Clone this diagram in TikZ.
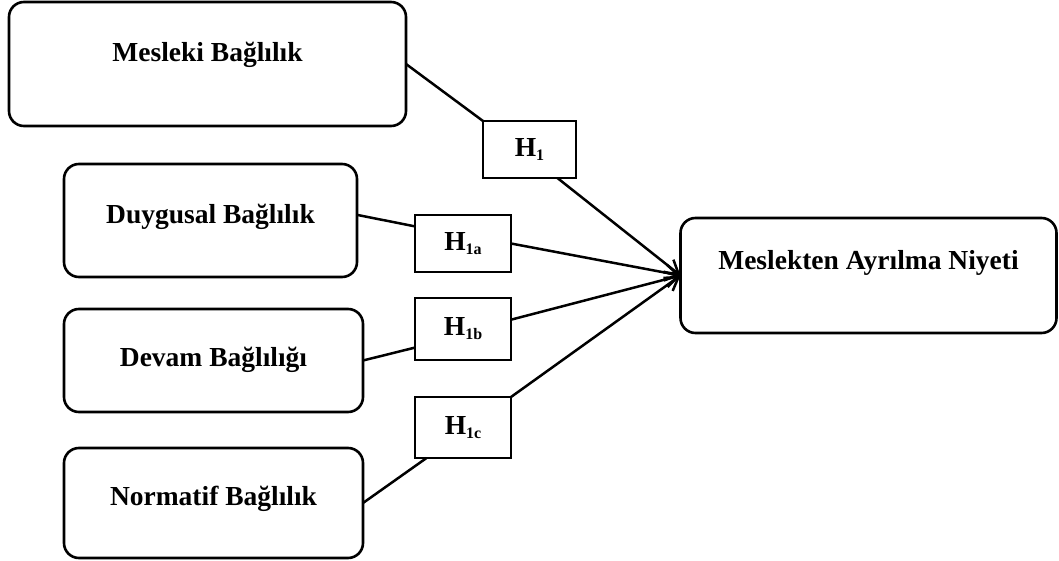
\documentclass[tikz,border=0pt]{standalone}
\usepackage{fontspec}
\setmainfont{Liberation Serif}
\usetikzlibrary{calc,arrows.meta}

% hypothesis label: bold H with a lowered, smaller index
\newcommand{\Hlab}[1]{H\raisebox{-4pt}{\fontsize{16}{16}\selectfont #1}}

\begin{document}
\begin{tikzpicture}[x=1pt,y=-1pt,
  every node/.style={inner sep=0pt, outer sep=0pt},
  line/.style={line width=2.5pt},
  varbox/.style={draw, line width=2.6pt, rounded corners=15pt},
  hypbox/.style={draw, line width=2.5pt, font=\fontsize{27.5}{30}\selectfont\bfseries},
  lbl/.style={font=\fontsize{27.5}{30}\selectfont\bfseries},
  arr/.style={line, -{Straight Barb[length=13pt,width=16pt,line width=2.5pt]}}
]
\useasboundingbox (0,0) rectangle (1059,561);

% variables
\node[varbox, minimum width=397pt, minimum height=124pt,
      label={[lbl,yshift=9pt]center:Mesleki Bağlılık}] (mb) at (207.5,64) {};
\node[varbox, minimum width=293pt, minimum height=113pt,
      label={[lbl,yshift=4pt]center:Duygusal Bağlılık}] (dy) at (210.5,220.5) {};
\node[varbox, minimum width=299pt, minimum height=103pt,
      label={[lbl,yshift=1pt]center:Devam Bağlılığı}] (dv) at (213.5,360.5) {};
\node[varbox, minimum width=299pt, minimum height=110pt,
      label={[lbl,yshift=4pt]center:Normatif Bağlılık}] (nf) at (213.5,503) {};
\node[varbox, minimum width=376pt, minimum height=115pt,
      label={[lbl,yshift=13pt]center:Meslekten Ayrılma Niyeti}] (ami) at (868.5,275.5) {};

% hypotheses
\node[hypbox, minimum width=93pt, minimum height=57pt] (h1) at (529.5,149.5) {\Hlab{1}};
\node[hypbox, minimum width=96pt, minimum height=57pt] (h1a) at (463,243.5) {\Hlab{1a}};
\node[hypbox, minimum width=96pt, minimum height=62pt] (h1b) at (463,329) {\Hlab{1b}};
\node[hypbox, minimum width=96pt, minimum height=61pt] (h1c) at (463,427.5) {\Hlab{1c}};

\coordinate (tip) at (ami.west);

% paths
\draw[line] (mb.east) -- (h1.north west);
\draw[arr] ($(h1.south west)!0.8!(h1.south east)$) -- (tip);

\draw[line] ($(dy.north east)!0.45!(dy.south east)$) -- ($(h1a.north west)!0.2!(h1a.south west)$);
\draw[arr] (h1a.east) -- (tip);

\draw[line] (dv.east) -- ($(h1b.north west)!0.8!(h1b.south west)$);
\draw[arr] ($(h1b.north east)!0.35!(h1b.south east)$) -- (tip);

\draw[line] (nf.east) -- ($(h1c.south west)!0.12!(h1c.south east)$);
\draw[arr] (h1c.north east) -- (tip);
\end{tikzpicture}
\end{document}
